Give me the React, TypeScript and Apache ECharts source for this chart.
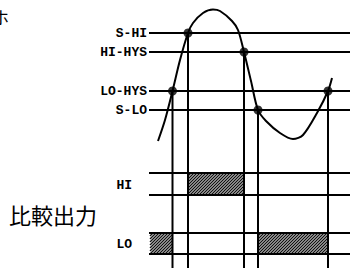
import React, { useEffect, useRef } from "react";
import * as echarts from "echarts";

// Threshold levels (top section)
const thresholdLabels = ["S-HI", "HI-HYS", "LO-HYS", "S-LO"];
const thresholdY = [33, 52, 91, 110];

// Output bands (bottom section)
const outputLabels = ["HI", "LO"];
const outputTop = [173, 233];
const outputBottom = [195, 254];

// Horizontal extent of level / band lines
const lineStartX = 149;
const lineEndX = 350;
const bottomY = 268;

// Input signal curve
const curveX = [158, 165, 172.5, 180, 188, 193, 203, 213, 220, 232, 238, 244, 251, 258, 266, 280, 293, 303, 317, 328, 332];
const curveY = [141, 120, 91, 60, 33, 23, 13, 9.5, 11, 21, 30, 52, 81, 110, 121, 133, 139, 135, 113, 91, 78];

// Crossing points
const crossX = [172.5, 188, 244, 258, 328];
const crossY = [91, 33, 52, 110, 91];

// Active output intervals: [xStart, xEnd, bandIndex]
const activeStart = [188, 150, 258];
const activeEnd = [244, 172.5, 328];
const activeBand = [0, 1, 1];

export default function App() {
  const ref = useRef<HTMLDivElement>(null);
  useEffect(() => {
    document.body.style.margin = "0";
    const chart = echarts.init(ref.current!, null, { renderer: "svg" });
    const labelFont = { fontFamily: "Liberation Mono", fontWeight: "bold" as const, fontSize: 13, fill: "#000" };

    const option: any = {
      animation: false,
      grid: { left: 0, right: 0, top: 0, bottom: 0 },
      xAxis: { type: "value", min: 0, max: 357, show: false },
      yAxis: { type: "value", min: 0, max: 268, inverse: true, show: false },
      graphic: [
        { type: "text", left: 9, top: 203, style: { text: "比較出力", fontFamily: "Noto Sans CJK JP", fontSize: 22, fill: "#000" } },
        { type: "text", left: -8, top: 8, style: { text: "ホ", fontFamily: "Noto Sans CJK JP", fontSize: 17, fill: "#000" } },
      ],
      series: [
        {
          type: "custom",
          name: "hatch",
          clip: false,
          data: activeStart.map((s, i) => [s, activeEnd[i], outputTop[activeBand[i]], outputBottom[activeBand[i]]]),
          renderItem: (params: any, api: any) => {
            const p0 = api.coord([api.value(0), api.value(2)]);
            const p1 = api.coord([api.value(1), api.value(3)]);
            const X0 = p0[0], Y0 = p0[1], X1 = p1[0], Y1 = p1[1];
            const children: any[] = [];
            const step = 3;
            for (let c = X0 + Y0; c <= X1 + Y1; c += step) {
              const xa = Math.max(X0, c - Y1);
              const xb = Math.min(X1, c - Y0);
              if (xb > xa) {
                children.push({
                  type: "line",
                  shape: { x1: xa, y1: c - xa, x2: xb, y2: c - xb },
                  style: { stroke: "#111", lineWidth: 1.4 },
                });
              }
            }
            return { type: "group", children };
          },
        },
        {
          type: "custom",
          name: "levels",
          clip: false,
          data: thresholdY.map((y) => [lineStartX, y]),
          renderItem: (params: any, api: any) => {
            const y = api.value(1);
            const a = api.coord([lineStartX, y]);
            const b = api.coord([lineEndX, y]);
            return {
              type: "group",
              children: [
                { type: "line", shape: { x1: a[0], y1: a[1], x2: b[0], y2: b[1] }, style: { stroke: "#000", lineWidth: 2 } },
                {
                  type: "text",
                  x: a[0] - 2,
                  y: a[1],
                  style: { ...labelFont, text: thresholdLabels[params.dataIndex], align: "right", verticalAlign: "middle" },
                },
              ],
            };
          },
        },
        {
          type: "custom",
          name: "bands",
          clip: false,
          data: outputTop.map((t, i) => [lineStartX, t, outputBottom[i]]),
          renderItem: (params: any, api: any) => {
            const t = api.coord([lineStartX, api.value(1)]);
            const b = api.coord([lineStartX, api.value(2)]);
            const e = api.coord([lineEndX, api.value(1)]);
            return {
              type: "group",
              children: [
                { type: "line", shape: { x1: t[0], y1: t[1], x2: e[0], y2: t[1] }, style: { stroke: "#000", lineWidth: 2 } },
                { type: "line", shape: { x1: b[0], y1: b[1], x2: e[0], y2: b[1] }, style: { stroke: "#000", lineWidth: 2 } },
                {
                  type: "text",
                  x: t[0] - 17,
                  y: (t[1] + b[1]) / 2 + 1,
                  style: { ...labelFont, text: outputLabels[params.dataIndex], align: "right", verticalAlign: "middle" },
                },
              ],
            };
          },
        },
        {
          type: "custom",
          name: "verticals",
          clip: false,
          data: crossX.map((x, i) => [x, crossY[i]]),
          renderItem: (params: any, api: any) => {
            const a = api.coord([api.value(0), api.value(1)]);
            const b = api.coord([api.value(0), bottomY]);
            return { type: "line", shape: { x1: a[0], y1: a[1], x2: b[0], y2: b[1] }, style: { stroke: "#000", lineWidth: 2 } };
          },
        },
        {
          type: "line",
          name: "signal",
          smooth: 0.3,
          showSymbol: false,
          data: curveX.map((x, i) => [x, curveY[i]]),
          lineStyle: { color: "#000", width: 2 },
          z: 5,
        },
        {
          type: "scatter",
          name: "crossings",
          symbolSize: 9,
          data: crossX.map((x, i) => [x, crossY[i]]),
          itemStyle: { color: "#000" },
          z: 6,
        },
      ],
    };
    chart.setOption(option);
    return () => chart.dispose();
  }, []);
  return <div ref={ref} style={{ width: 357, height: 268 }} />;
}
